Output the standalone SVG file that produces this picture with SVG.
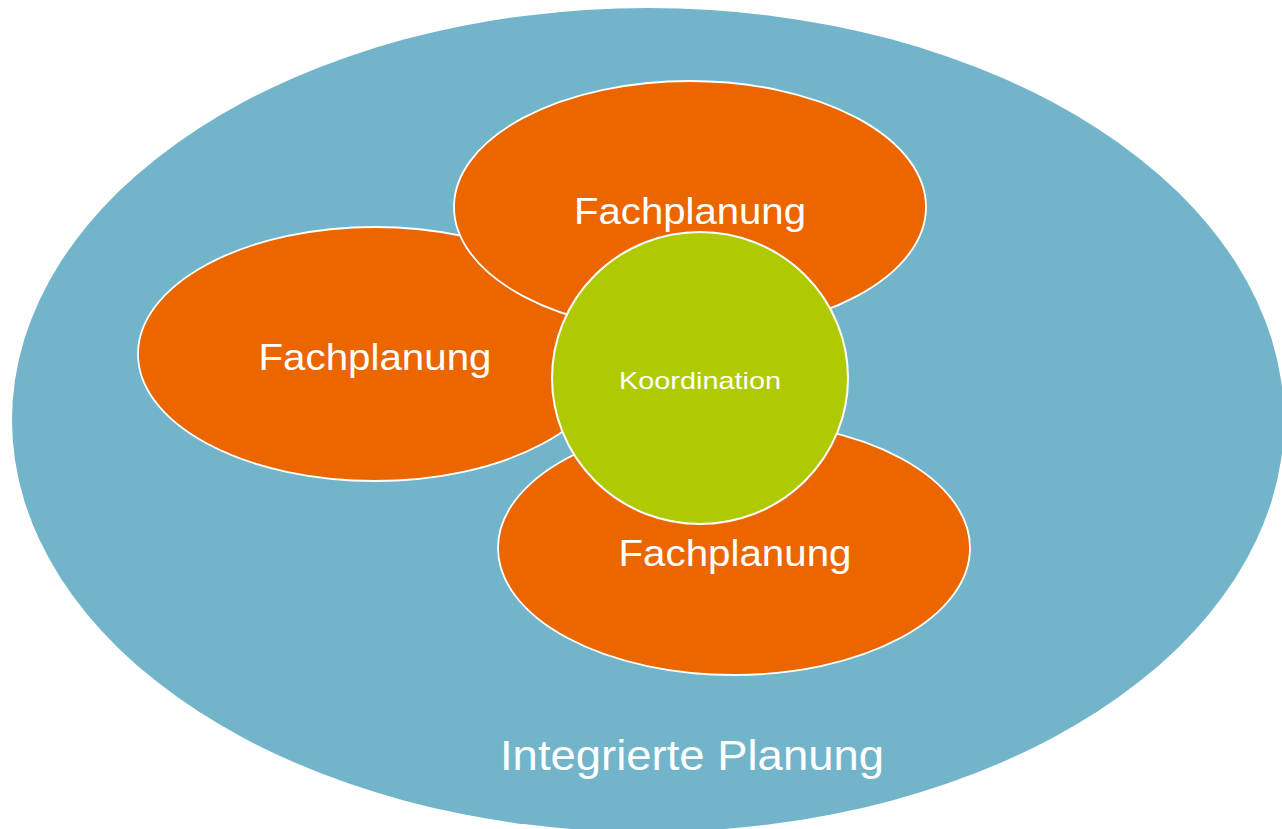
<svg xmlns="http://www.w3.org/2000/svg" width="1282" height="829" viewBox="0 0 1282 829">
<style>
.fach{fill:#EC6600;stroke:#FFFFFF;stroke-width:1.8}
.t{fill:#FFFFFF;font-family:"Liberation Sans",Arial,sans-serif;text-anchor:middle}
</style>
<rect width="1282" height="829" fill="#FFFFFF"/>
<g id="integrierte">
<ellipse cx="648" cy="420" rx="636" ry="412" fill="#72B5CB"/>
<text class="t" x="692" y="770" font-size="42" textLength="384" lengthAdjust="spacingAndGlyphs">Integrierte Planung</text>
</g>
<g id="fach-left">
<ellipse class="fach" cx="375" cy="354" rx="237" ry="127"/>
<text class="t" x="375" y="370" font-size="37" textLength="233" lengthAdjust="spacingAndGlyphs">Fachplanung</text>
</g>
<g id="fach-top">
<ellipse class="fach" cx="690" cy="207" rx="236" ry="126"/>
<text class="t" x="690" y="224" font-size="37" textLength="232" lengthAdjust="spacingAndGlyphs">Fachplanung</text>
</g>
<g id="fach-bottom">
<ellipse class="fach" cx="734" cy="548" rx="236" ry="127"/>
<text class="t" x="735" y="566" font-size="37" textLength="233" lengthAdjust="spacingAndGlyphs">Fachplanung</text>
</g>
<g id="koordination">
<ellipse cx="700" cy="378" rx="148" ry="146" fill="#AFCA03" stroke="#FFFFFF" stroke-width="2"/>
<text class="t" x="700" y="389" font-size="24" textLength="162" lengthAdjust="spacingAndGlyphs">Koordination</text>
</g>
<g id="connectors"></g>
</svg>
